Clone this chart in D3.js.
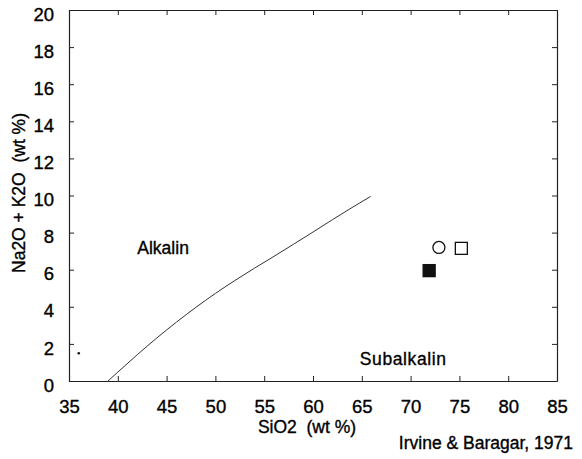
<!DOCTYPE html>
<html>
<head>
<meta charset="utf-8">
<script src="https://cdn.jsdelivr.net/npm/d3@7"></script>
<style>
  body { margin: 0; background: #fff; }
  text { font-family: "Liberation Sans", Arial, sans-serif; fill: #000; stroke: #000; stroke-width: 0.35px; }
</style>
</head>
<body>
<div id="chart"></div>
<script>
// Irvine & Baragar (1971) alkalin / subalkalin divide
const divideSiO2 = [39.0, 40.0, 42.0, 44.0, 46.0, 48.0, 50.0, 52.0, 54.0, 56.0, 58.0, 60.0, 62.0, 64.0, 65.9];
const divideAlk  = [0.0, 0.48, 1.42, 2.32, 3.17, 3.97, 4.72, 5.42, 6.08, 6.72, 7.37, 8.03, 8.70, 9.35, 9.95];

// samples
const sampleSiO2 = [72.9, 75.2, 71.9, 36.0];
const sampleAlk  = [7.2, 7.15, 5.95, 1.5];
const sampleShape = ["circle", "square", "filledSquare", "dot"];

const xTicks = [35, 40, 45, 50, 55, 60, 65, 70, 75, 80, 85];
const yTicks = [0, 2, 4, 6, 8, 10, 12, 14, 16, 18, 20];

const W = 582, H = 459;
const margin = { top: 10, right: 25, bottom: 78, left: 69 };
const width = W - margin.left - margin.right;
const height = H - margin.top - margin.bottom;

const svg = d3.select("#chart").append("svg")
  .attr("width", W)
  .attr("height", H);

const g = svg.append("g")
  .attr("transform", `translate(${margin.left},${margin.top})`);

const x = d3.scaleLinear().domain([35, 85]).range([0, width]);
const y = d3.scaleLinear().domain([0, 20]).range([height, 0]);

// axes, ticks pointing inward on all sides
const tk = 5;
g.append("g")
  .attr("transform", `translate(0,${height})`)
  .call(d3.axisBottom(x).tickValues(xTicks).tickSizeInner(-tk).tickSizeOuter(0).tickPadding(19));
g.append("g")
  .attr("class", "yaxis")
  .call(d3.axisLeft(y).tickValues(yTicks).tickSizeInner(-tk).tickSizeOuter(0).tickPadding(15));
g.append("g")
  .call(d3.axisTop(x).tickValues(xTicks).tickSizeInner(-tk).tickSizeOuter(0).tickFormat(""));
g.append("g")
  .attr("transform", `translate(${width},0)`)
  .call(d3.axisRight(y).tickValues(yTicks).tickSizeInner(-tk).tickSizeOuter(0).tickFormat(""));

g.selectAll(".domain").attr("stroke", "#222").attr("stroke-width", 1.2);
g.selectAll(".tick line").attr("stroke", "#222");
g.selectAll(".tick text")
  .attr("font-size", 18.5)
  .attr("font-family", "Liberation Sans, Arial, sans-serif")
  .attr("fill", "#000");
g.selectAll(".yaxis .tick text").attr("dy", "0.55em");

// divide line
const pts = divideSiO2.map((s, i) => [s, divideAlk[i]]);
g.append("path")
  .datum(pts)
  .attr("fill", "none")
  .attr("stroke", "#333")
  .attr("stroke-width", 1)
  .attr("d", d3.line().x(d => x(d[0])).y(d => y(d[1])).curve(d3.curveMonotoneX));

// samples
const sz = 12;
sampleSiO2.forEach((s, i) => {
  const cx = x(s), cy = y(sampleAlk[i]);
  const shape = sampleShape[i];
  if (shape === "circle") {
    g.append("circle").attr("cx", cx).attr("cy", cy).attr("r", 6)
      .attr("fill", "none").attr("stroke", "#111").attr("stroke-width", 1.3);
  } else if (shape === "square" || shape === "filledSquare") {
    g.append("rect").attr("x", cx - sz / 2).attr("y", cy - sz / 2)
      .attr("width", sz).attr("height", sz)
      .attr("fill", shape === "filledSquare" ? "#111" : "none")
      .attr("stroke", "#111").attr("stroke-width", 1.3);
  } else {
    g.append("circle").attr("cx", cx).attr("cy", cy).attr("r", 1.3).attr("fill", "#111");
  }
});

// field labels
g.append("text").attr("x", x(42.0)).attr("y", y(6.85))
  .attr("font-size", 17.5).text("Alkalin");
g.append("text").attr("x", x(64.8)).attr("y", y(0.85))
  .attr("font-size", 17.5).attr("letter-spacing", 0.6).text("Subalkalin");

// axis titles
svg.append("text")
  .attr("x", 307)
  .attr("y", 433)
  .attr("text-anchor", "middle")
  .attr("font-size", 17.5)
  .text("SiO2\u00a0\u00a0(wt %)");
svg.append("text")
  .attr("transform", `translate(25,193) rotate(-90)`)
  .attr("text-anchor", "middle")
  .attr("font-size", 17.5)
  .text("Na2O + K2O\u00a0\u00a0(wt %)");
svg.append("text")
  .attr("x", 573)
  .attr("y", 449)
  .attr("text-anchor", "end")
  .attr("font-size", 17.5)
  .text("Irvine & Baragar, 1971");
</script>
</body>
</html>
